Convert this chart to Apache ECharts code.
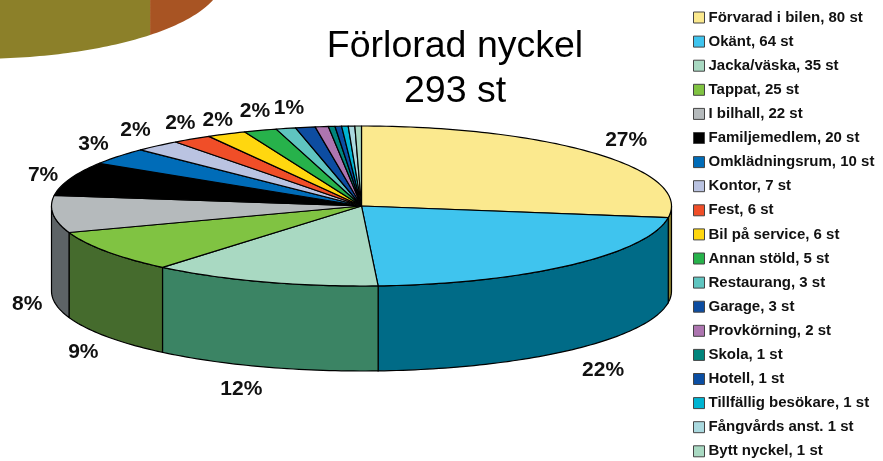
<!DOCTYPE html>
<html><head><meta charset="utf-8">
<style>html,body{margin:0;padding:0;background:#fff}#c{width:883px;height:461px}</style>
<script src="https://cdn.jsdelivr.net/npm/echarts@6/dist/echarts.min.js"></script>
</head><body><div id="c"></div>
<script>
const categories = ["Förvarad i bilen, 80 st","Okänt, 64 st","Jacka/väska, 35 st","Tappat, 25 st","I bilhall, 22 st","Familjemedlem, 20 st","Omklädningsrum, 10 st","Kontor, 7 st","Fest, 6 st","Bil på service, 6 st","Annan stöld, 5 st","Restaurang, 3 st","Garage, 3 st","Provkörning, 2 st","Skola, 1 st","Hotell, 1 st","Tillfällig besökare, 1 st","Fångvårds anst. 1 st","Bytt nyckel, 1 st"];
const values = [80,64,35,25,22,20,10,7,6,6,5,3,3,2,1,1,1,1,1];
const topColors = ["#FBE98E","#3FC4EE","#A9D9C2","#80C342","#B5BABC","#000000","#006CB8","#BAC3E1","#F04E28","#FFD70F","#27B24B","#5FC5C0","#0D4DA1","#AD75B0","#00857C","#0B4EA2","#00B4D2","#AAD9DF","#A9D9C2"];
const wallColors = ["#8C8030","#006B87","#3B8464","#456B2D","#5D6366","#000000","#003F6E"];
const percentLabels = ["27%","22%","12%","9%","8%","7%","3%","2%","2%","2%","2%","1%"];
const labelNudges = [[6,1],[11,4],[-12,1],[3,3],[6,3],[3,4],[0,2],[-1,1],[6,3],[5,6],[5,2],[11,1]];
const fragmentValues = [35,145];
const fragmentColors = ["#A85423","#8C8029"];

const total = values.reduce((a,b)=>a+b,0);
const P = {cx:361.5, cy:206, rx:310, ry:80, depth:85};
const F = {cx:-26, cy:-23, rx:249, ry:82, depth:-200};
const LBL = {rx:342, ry:102};
const pt = (g,t,dy=0)=>[g.cx+g.rx*Math.sin(t), g.cy-g.ry*Math.cos(t)+dy];
function arc(g,a,b,dy=0){const n=Math.max(2,Math.ceil(Math.abs(b-a)/0.02));const r=[];for(let i=0;i<=n;i++)r.push(pt(g,a+(b-a)*i/n,dy));return r;}
const H=Math.PI/2, T=3*Math.PI/2;
function wall(g,a,b,fill,line){
  const s=Math.max(a,H), e=Math.min(b,T);
  if(e<=s) return null;
  const top=arc(g,s,e), bot=arc(g,e,s,g.depth);
  return {type:'polygon',shape:{points:top.concat(bot)},style:{fill,stroke:line,lineWidth:line==='none'?0:1.2}};
}
let cum=0;
const starts=values.map(v=>{const s=cum;cum+=v;return s;});
const ang=v=>v/total*2*Math.PI;

// fragment of a neighbouring pie, clipped by the canvas edge
const fragSeries = {type:'custom',name:'_frag',silent:true,coordinateSystem:'none',z:1,
  data:fragmentValues.map((v,i)=>[i]),
  renderItem(p,api){
    const i=api.value(0);
    let s=100/180*Math.PI; for(let k=0;k<i;k++) s+=fragmentValues[k]/180*Math.PI;
    const e=s+fragmentValues[i]/180*Math.PI;
    return wall(F,s,e,fragmentColors[i],'none');
  }};

const wallSeries = {type:'custom',name:'_walls',silent:true,coordinateSystem:'none',z:2,
  data:values.map((v,i)=>[starts[i],v,i]),
  renderItem(p,api){
    const s=ang(api.value(0)), e=s+ang(api.value(1));
    const w=wall(P,s,e,wallColors[api.value(2)]||'#333','#000');
    return w||{type:'group',children:[]};
  }};

const sliceSeries = categories.map((name,i)=>({
  type:'custom',name,coordinateSystem:'none',z:3,silent:true,
  itemStyle:{color:topColors[i]},
  data:[[starts[i],values[i],i]],
  renderItem(p,api){
    const s=ang(api.value(0)), e=s+ang(api.value(1));
    const points=[[P.cx,P.cy]].concat(arc(P,s,e));
    return {type:'polygon',shape:{points},style:{fill:topColors[i],stroke:'#000',lineWidth:1.2,lineJoin:'round'}};
  }}));

const labelSeries = {type:'custom',name:'_labels',silent:true,coordinateSystem:'none',z:4,
  data:percentLabels.map((t,i)=>[starts[i],values[i],i]),
  renderItem(p,api){
    const i=api.value(2), m=ang(api.value(0)+api.value(1)/2);
    const lowY=Math.cos(m)<0?P.depth:0;
    return {type:'text',style:{text:percentLabels[i],x:P.cx+LBL.rx*Math.sin(m)+labelNudges[i][0],y:P.cy-LBL.ry*Math.cos(m)+lowY+labelNudges[i][1],
      align:'center',verticalAlign:'middle',fill:'#111',font:'bold 21px "Liberation Sans"'}};
  }};

const chart=echarts.init(document.getElementById('c'),null,{renderer:'canvas'});
chart.setOption({
  animation:false,backgroundColor:'#fff',
  title:{text:'Förlorad nyckel\n293 st',left:450,top:19,textAlign:'center',
    textStyle:{fontFamily:'Liberation Sans',fontSize:37.5,fontWeight:'normal',color:'#000',lineHeight:45}},
  legend:{orient:'vertical',left:693,top:10,height:451,width:190,padding:0,itemWidth:11,itemHeight:11,itemGap:9.1,icon:'rect',selectedMode:false,
    data:categories.map(name=>({name})),
    itemStyle:{borderColor:'#444',borderWidth:1},
    textStyle:{fontFamily:'Liberation Sans',fontSize:15,fontWeight:'bold',color:'#111',padding:[0,0,0,-1],lineHeight:14}},
  series:[fragSeries,wallSeries,...sliceSeries,labelSeries]
});
</script></body></html>
